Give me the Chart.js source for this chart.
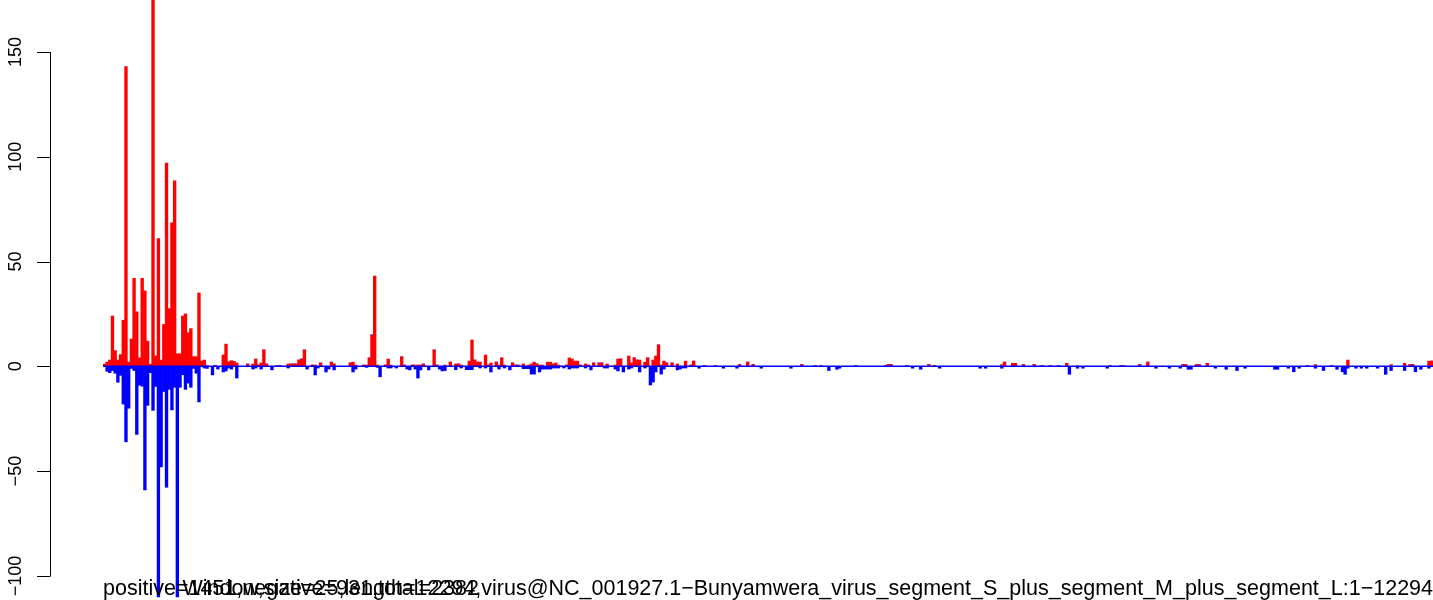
<!DOCTYPE html>
<html lang="en">
<head>
  <meta charset="UTF-8" />
  <title>Window counts</title>
  <script src="https://cdn.jsdelivr.net/npm/chart.js"></script>
  <style>
    html, body { margin: 0; padding: 0; background: #fff; }
    canvas { display: block; }
  </style>
</head>
<body>
  <canvas id="bars" width="1433" height="600"></canvas>

  <script>
    // window counts, one bar per 25 nt window (492 windows)
    const pos = [
      1,2,3,24,7.5,3,5.6,22,143,2,13,42,26,4,42,36,12,1,180,5,
      61,3,20,97,27.5,68.5,88.5,6,6,24,25,16,18,4.6,4.6,35,2.5,3,0.3,0,
      0,0.5,0,0,5.4,10.6,2.2,2.7,2.2,1.6,0,0,0,1.1,0,1.1,3.5,0.6,1.6,7.8,
      1.1,0,0,0,0.3,0.3,0,0,1.1,1.1,1.1,1.1,3,3.5,7.8,0,0,0.6,0.6,0,
      1.6,0,0,0,2,1.1,0,0,0,0,0,1.6,2,0.6,0,0,0.6,0.6,4,15,
      43,0.6,0,0,0.6,3.5,0.6,0,0,0,4.5,0.6,0,0,0.6,0.6,0.6,0.6,1.1,0,
      0,0,7.8,0.6,0,0,0.6,0,2,0,1.1,1.1,0.6,0,0,2.5,12.6,3,2,2,
      0,5.4,0.6,1.6,0,2,0.6,4,0.6,0,0,1.6,0.6,0.6,0,1.1,0,0.6,1.1,2,
      1.1,0.6,0.6,0,2,2,1.1,1.6,0.6,0,0,0.6,4,3.5,2.5,2.5,0.6,0,1.1,0.6,
      0,1.6,0,1.6,1.6,0,1.1,0,0,0.6,3.5,3.5,0,0,4.9,1.6,4,3,3,0,
      2,4,0,3,4.9,10.2,0.6,2.5,1.6,0,1.6,0,1.1,0,0,2.5,0,0.6,2.5,0,
      0,0,0.3,0,0,0,0.3,0,0,0,0,0,0,0,0,0.8,0,0,2,0,
      0.8,0,0,0,0,0,0,0,0,0,0,0,0,0,0,0,0,0,0.8,0,
      0,0,0,0.3,0,0.3,0,0,0,0,0,0,0,0,0,0,0,0,0.3,0,
      0,0,0,0,0,0,0,0,0,0.3,0.8,0.8,0,0,0,0,0,0.3,0,0,
      0,0,0,0,0,0.8,0,0.3,0,0,0,0,0,0,0,0,0,0,0,0,
      0,0,0,0,0,0,0,0,0,0,0,0,0.8,2,0,0,1.4,1.4,0,0,
      0.8,0,0,0,0.8,0,0,0.3,0,0,0.3,0,0,0.3,0,0,1.4,0,0,0,
      0.3,0,0,0,0,0,0,0,0,0,0,0,0.3,0,0,0,0.3,0.3,0,0,
      0,0,0,0.8,0,0,2,0,0,0,0,0,0,0,0,0,0,0,0,0.8,
      0.8,0,0,0,0.8,0.8,0,0,1.4,0,0,0,0,0,0,0,0,0,0,0,
      0,0,0,0,0,0,0,0,0,0,0,0,0,0,0,0,0,0,0,0,
      0,0,0,0,0,0.3,0,0,0.8,0,0,0,0,0,0.3,0,0,0,0,0,
      3,0,0,0,0,0,0,0,0,0,0,0,0,0,0,0,0.8,0,0,0,
      0,1.4,0,0.8,0.8,0,0,0,0,0,2.5,2.5
    ];
    const neg = [
      0,-2.4,-3,-2,-3.3,-7.6,-4.3,-18,-36,-20,-1,-2,-32.5,-9,-9.5,-59,-18.6,-3,-21,-9.6,
      -110,-48,-12,-57.7,-11,-20.8,-10,-110,-10,-4,-11,-8,-10,-1,-3.3,-17,0,-0.8,-1,0,
      -4.1,0,-1.3,0,-2.7,-2.2,-0.8,-1.3,0,-5.6,0,0,0,0,0,-1.3,-0.8,0,-1.3,0,
      0,0,-1.7,0,0,0,0,0,-0.8,0,0,0,0,0,0,-1.3,0,0,-4.1,-0.8,
      0,0,-2.7,-1.3,0,-1.7,0,0,0,0,0,0,-2.7,-1.3,0,0,0,-0.5,0,0,
      0,-0.5,-5,0,0,-0.8,-0.8,0,-0.8,0,0,0,-1.3,-1.7,0,-1.3,-5.6,-1.7,0,0,
      -1.7,0,0,0,-1.3,-2.2,-2,0,0,0,-1.6,0,-0.8,0,-1.6,-1.6,-1.6,0,0,-0.8,
      0,-0.8,0,-2.7,0,0,-1.3,0,-0.8,0,-1.7,0,0,0,0,-1.1,-1.1,-1.1,-3.7,-3.7,
      0,-2.7,-1.3,-1.3,-1.3,-1.3,-0.8,-0.8,-0.8,0,-0.8,0,-1.3,-0.8,-0.8,-0.8,0,0,-0.8,0,
      -1.7,0,0,0,0,-0.8,-0.8,0,0,-1.3,-2.2,0,-2.7,0,-1.3,-0.8,0,0,-2.7,0,
      -0.8,0,-8.9,-7.5,-2.7,0,-3.7,-1.3,0,0,0,0,-1.7,-1.3,-0.8,-0.8,0,0,0,0,
      -0.9,0,0,0,0,0,0,0,0,-0.9,0,0,0,0,-0.9,0,0,0,0,0,
      0,0,0,-0.9,0,0,0,0,0,0,0,0,0,0,-0.9,0,0,0,0,0,
      0,0,0,0,0,0,0,0,-2,0,0,-1.4,-0.9,0,0,0,0,0,0,0,
      0,0,0,0,0,0,0,0,0,0,0,0,0,0,0,0,0,0,0,-0.9,
      0,0,-1.4,0,0,0,0,0,0,-0.9,0,0,0,0,0,0,0,0,0,0,
      0,0,0,0,-0.9,0,-0.9,0,0,0,0,0,-0.9,0,0,0,0,0,0,0,
      0,0,0,0,0,0,0,0,0,0,0,0,0,0,0,0,0,-3.8,0,0,
      -0.9,0,-0.9,0,0,0,0,0,0,0,0,-0.9,0,0,0,0,0,0,0,0,
      0,0,0,0,0,0,0,0,0,-0.9,0,0,0,0,-0.9,0,0,0,-0.9,0,
      0,-1.4,-1.4,0,0,0,0,0,0,0,0,-0.9,0,0,0,-1.4,0,0,0,-2,
      0,0,-0.9,0,0,0,0,0,0,0,0,0,0,-1.4,-1.4,0,0,0,-0.9,0,
      -2.6,0,-0.9,0,0,0,0,0,-0.9,0,0,-2,0,0,0,0,-1.4,0,-2.6,-3.8,
      -0.9,0,0,-0.9,0,-0.9,0,-0.9,0,0,0,-0.9,0,0,-3.8,0,-2,0,0,0,
      0,-2,0,0,0,-2.6,0,-1.4,0,0,-0.9,0
    ];
    const windows = pos.map((_, i) => i + 1);
    const yTicks = [-100, -50, 0, 50, 100, 150];
    const yTickLabels = ['\u2212100', '\u221250', '0', '50', '100', '150'];
    const statsText = 'positive=1451,negative=931,total=2382';
    const titleText = 'Window,size=25,length=12294,virus@NC_001927.1\u2212Bunyamwera_virus_segment_S_plus_segment_M_plus_segment_L:1\u221212294';

    // R-style axis, zero line and the two bottom captions
    const decorations = {
      id: 'decorations',
      afterDatasetsDraw(chart) {
        const { ctx, chartArea, scales } = chart;
        const y0 = scales.y.getPixelForValue(0);
        ctx.save();
        ctx.strokeStyle = '#0000ff';
        ctx.lineWidth = 1.5;
        ctx.beginPath();
        ctx.moveTo(chartArea.left, y0);
        ctx.lineTo(chartArea.right, y0);
        ctx.stroke();
        ctx.restore();
      },
      afterDraw(chart) {
        const { ctx, scales } = chart;
        const y = scales.y;
        const axisX = 50.5;
        ctx.save();
        ctx.strokeStyle = '#000';
        ctx.lineWidth = 1;
        ctx.beginPath();
        ctx.moveTo(axisX, y.getPixelForValue(yTicks[0]));
        ctx.lineTo(axisX, y.getPixelForValue(yTicks[yTicks.length - 1]));
        yTicks.forEach(t => {
          const py = Math.round(y.getPixelForValue(t)) + 0.5;
          ctx.moveTo(axisX, py);
          ctx.lineTo(37, py);
        });
        ctx.stroke();

        ctx.fillStyle = '#000';
        ctx.font = '18px "Liberation Sans", Arial, sans-serif';
        ctx.textAlign = 'center';
        ctx.textBaseline = 'alphabetic';
        yTicks.forEach((t, k) => {
          ctx.save();
          ctx.translate(21, y.getPixelForValue(t));
          ctx.rotate(-Math.PI / 2);
          ctx.fillText(yTickLabels[k], 0, 0);
          ctx.restore();
        });

        ctx.font = '21.5px "Liberation Sans", Arial, sans-serif';
        ctx.textAlign = 'left';
        ctx.fillText(statsText, 103, 595);
        ctx.textAlign = 'right';
        ctx.fillText(titleText, 1433, 595);
        ctx.restore();
      }
    };

    new Chart(document.getElementById('bars'), {
      type: 'bar',
      data: {
        labels: windows,
        datasets: [
          { label: 'positive', data: pos, backgroundColor: '#ff0000', borderWidth: 0,
            categoryPercentage: 1, barPercentage: 1 },
          { label: 'negative', data: neg, backgroundColor: '#0000ff', borderWidth: 0,
            categoryPercentage: 1, barPercentage: 1 }
        ]
      },
      options: {
        responsive: false,
        animation: false,
        devicePixelRatio: 1,
        layout: { padding: { left: 103, right: 0, top: 0, bottom: 0 } },
        plugins: { legend: { display: false }, tooltip: { enabled: false } },
        scales: {
          x: { display: false, stacked: true },
          y: { display: false, stacked: true, min: -111.5, max: 174.8 }
        }
      },
      plugins: [decorations]
    });
  </script>
</body>
</html>
